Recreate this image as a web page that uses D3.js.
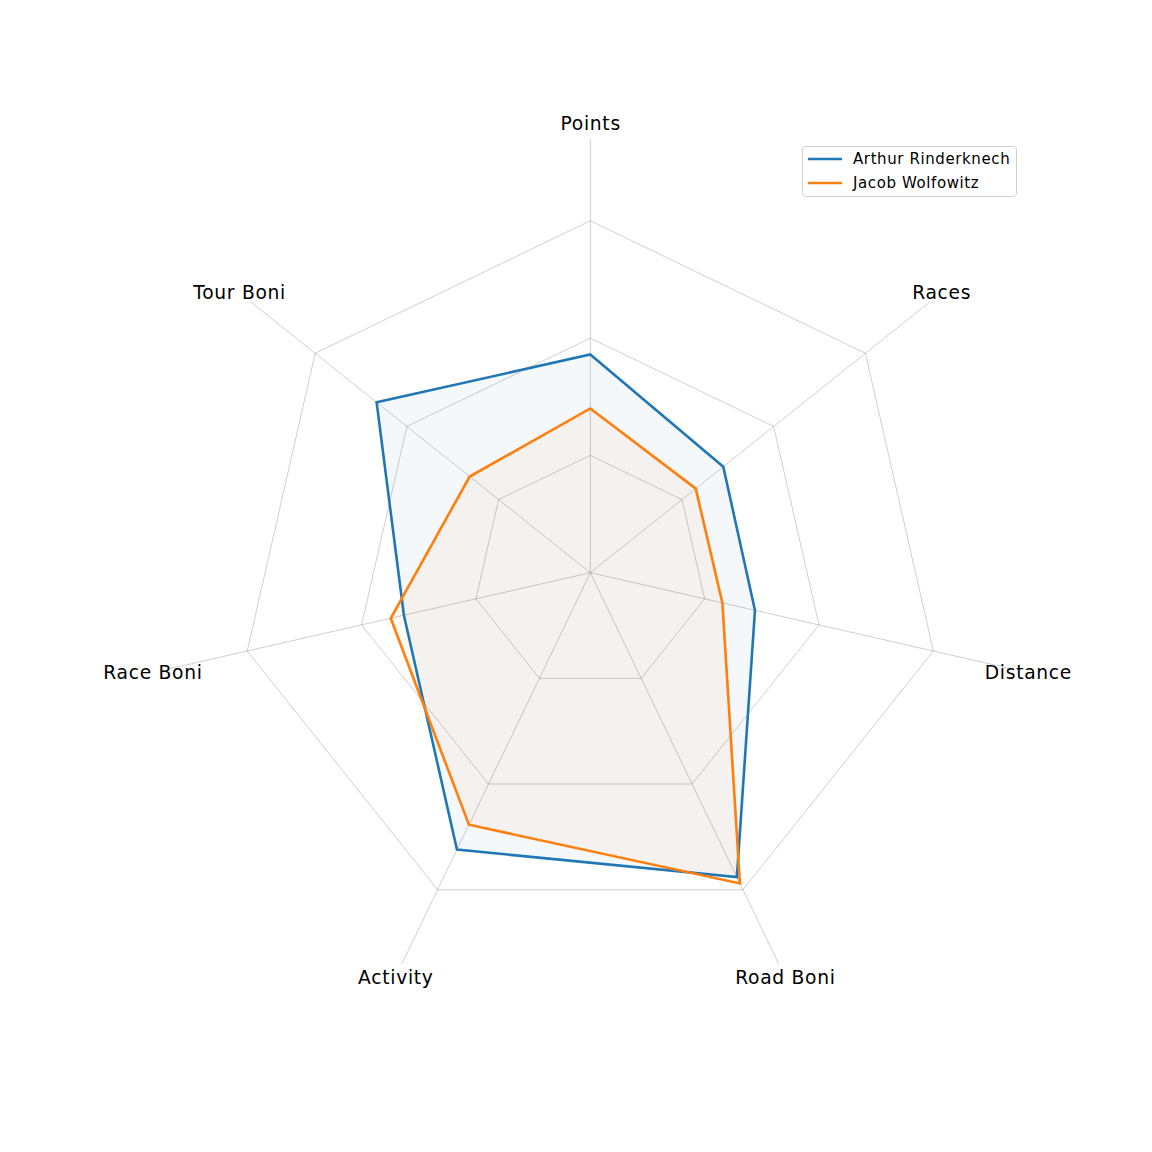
<!DOCTYPE html>
<html>
<head>
<meta charset="utf-8">
<script src="https://cdn.jsdelivr.net/npm/d3@7"></script>
<style>
  html, body { margin: 0; padding: 0; background: #fff; }
  svg { display: block; font-family: "DejaVu Sans", sans-serif; }
</style>
</head>
<body>
<svg id="chart" width="1152" height="1152"></svg>
<script>
const categories = ["Points", "Races", "Distance", "Road Boni", "Activity", "Race Boni", "Tour Boni"];
const seriesNames = ["Arthur Rinderknech", "Jacob Wolfowitz"];
const arthurValues = [1.86, 1.45, 1.44, 2.88, 2.62, 1.63, 2.33];
const jacobValues = [1.40, 1.15, 1.155, 2.94, 2.385, 1.745, 1.315];
const gridLevels = [1, 2, 3];
const colors = ["#1f77b4", "#ff7f0e"];

const svg = d3.select("#chart");
const cx = 590.3, cy = 572.7;
const rMax = 3.7;
const r = d3.scaleLinear().domain([0, rMax]).range([0, 434]);
const angle = d3.scaleLinear().domain([0, categories.length]).range([0, 2 * Math.PI]);

const g = svg.append("g").attr("transform", `translate(${cx},${cy})`);

function pt(i, v) {
  const a = angle(i);
  return [Math.sin(a) * r(v), -Math.cos(a) * r(v)];
}

const radial = d3.lineRadial()
  .angle((d, i) => angle(i))
  .radius(d => r(d))
  .curve(d3.curveLinearClosed);

// fills
const series = [arthurValues, jacobValues];
series.forEach((vals, k) => {
  g.append("path")
    .attr("d", radial(vals))
    .attr("fill", colors[k])
    .attr("fill-opacity", 0.05)
    .attr("stroke", "none");
});

// grid polygons
gridLevels.forEach(lv => {
  g.append("path")
    .attr("d", radial(categories.map(() => lv)))
    .attr("fill", "none")
    .attr("stroke", "#000")
    .attr("stroke-opacity", 0.19)
    .attr("stroke-width", 1);
});

// spokes
categories.forEach((c, i) => {
  const [x, y] = pt(i, rMax);
  g.append("line")
    .attr("x1", 0).attr("y1", 0)
    .attr("x2", x).attr("y2", y)
    .attr("stroke", "#000")
    .attr("stroke-opacity", 0.19)
    .attr("stroke-width", 1);
});

// lines
series.forEach((vals, k) => {
  g.append("path")
    .attr("d", radial(vals))
    .attr("fill", "none")
    .attr("stroke", colors[k])
    .attr("stroke-width", 2.6)
    .attr("stroke-linejoin", "miter");
});

// labels
categories.forEach((c, i) => {
  const a = angle(i);
  const lr = r(rMax) + 15;
  g.append("text")
    .attr("x", Math.sin(a) * lr + 0.35)
    .attr("y", -Math.cos(a) * lr)
    .attr("text-anchor", "middle")
    .attr("dominant-baseline", "central")
    .attr("font-size", "18.7px")
    .attr("letter-spacing", "0.7px")
    .attr("fill", "#000")
    .text(c);
});

// legend
const lg = svg.append("g").attr("transform", "translate(802.5,146.5)");
lg.append("rect")
  .attr("width", 214).attr("height", 50)
  .attr("rx", 3).attr("ry", 3)
  .attr("fill", "#fff").attr("fill-opacity", 0.8)
  .attr("stroke", "#d0d0d0").attr("stroke-width", 1);
seriesNames.forEach((n, k) => {
  const y = 12.5 + k * 24;
  lg.append("line")
    .attr("x1", 5.5).attr("x2", 39.5)
    .attr("y1", y).attr("y2", y)
    .attr("stroke", colors[k]).attr("stroke-width", 2.6);
  lg.append("text")
    .attr("x", 50.5).attr("y", y)
    .attr("dominant-baseline", "central")
    .attr("font-size", "15px")
    .attr("letter-spacing", "0.6px")
    .attr("fill", "#000")
    .text(n);
});
</script>
</body>
</html>
